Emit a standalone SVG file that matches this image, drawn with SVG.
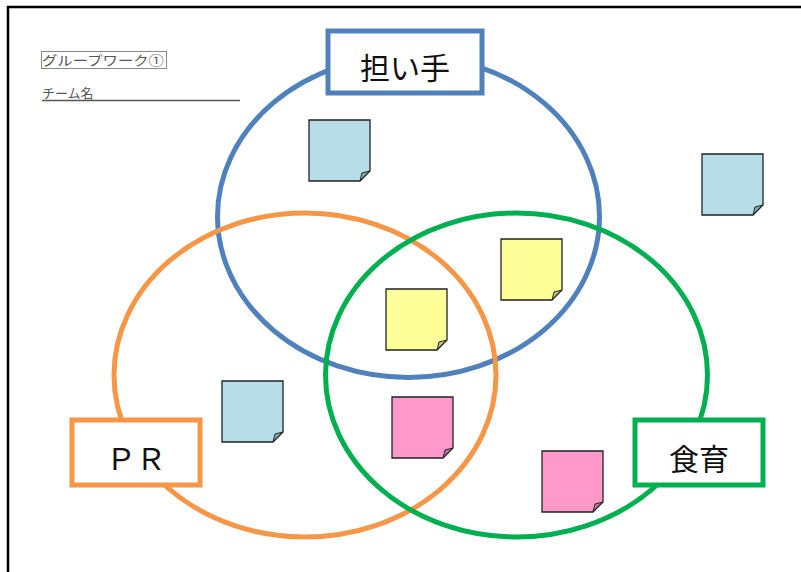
<svg xmlns="http://www.w3.org/2000/svg" xmlns:xlink="http://www.w3.org/1999/xlink" width="801" height="572" viewBox="0 0 801 572">
<style>
.ell{fill:none;stroke-width:5}
.lbl{fill:#fff;stroke-width:5}
.lt{font-family:"Noto Sans CJK JP","Noto Sans",sans-serif;font-size:30px;fill:#111;text-anchor:middle;dominant-baseline:central}
.blue{fill:#b7dde8}
.yel{fill:#ffff99}
.pink{fill:#ff99cc}
.small{font-family:"Noto Sans CJK JP",sans-serif;font-size:13px;fill:#555}
</style>
<defs>
<g id="n"><path stroke="#222" stroke-width="1.3" d="M0,0H61V51L51,61H0Z"/><path fill="#000" fill-opacity="0.22" stroke="#222" stroke-width="1" d="M51,61L53,53L61,51Z"/></g>
</defs>
<rect width="801" height="572" fill="#fff"/>
<path d="M8,572V7H801" fill="none" stroke="#000" stroke-width="2.5"/>
<g id="title">
<rect x="41.5" y="51.5" width="125" height="17" fill="none" stroke="#888" stroke-width="1"/>
<text class="small" x="42" y="65" textLength="122" lengthAdjust="spacingAndGlyphs">グループワーク①</text>
</g>
<g id="team">
<text class="small" x="42" y="98">チーム名</text>
<line x1="42" y1="100.5" x2="240" y2="100.5" stroke="#555" stroke-width="1.3"/>
</g>
<g id="connectors">
<ellipse id="e-blue" class="ell" cx="408.5" cy="216.5" rx="191" ry="161" stroke="#4f81bd"/>
<ellipse id="e-orange" class="ell" cx="305" cy="375" rx="191" ry="162" stroke="#f79646"/>
<ellipse id="e-green" class="ell" cx="516.5" cy="375" rx="191" ry="162" stroke="#00b050"/>
</g>
<g id="label-tanite"><rect class="lbl" x="328" y="31" width="154" height="62" stroke="#4f81bd"/><text class="lt" x="405" y="66">担い手</text></g>
<g id="label-pr"><rect class="lbl" x="72" y="420" width="128" height="65" stroke="#f79646"/><text class="lt" x="136" y="457">ＰＲ</text></g>
<g id="label-shokuiku"><rect class="lbl" x="635" y="420" width="128" height="65" stroke="#00b050"/><text class="lt" x="699" y="457">食育</text></g>
<g id="note1" class="blue"><use xlink:href="#n" x="309" y="120"/></g>
<g id="note2" class="blue"><use xlink:href="#n" x="702" y="154"/></g>
<g id="note3" class="yel"><use xlink:href="#n" x="501" y="239"/></g>
<g id="note4" class="yel"><use xlink:href="#n" x="386" y="289"/></g>
<g id="note5" class="blue"><use xlink:href="#n" x="222" y="381"/></g>
<g id="note6" class="pink"><use xlink:href="#n" x="392" y="397"/></g>
<g id="note7" class="pink"><use xlink:href="#n" x="542" y="451"/></g>
</svg>
